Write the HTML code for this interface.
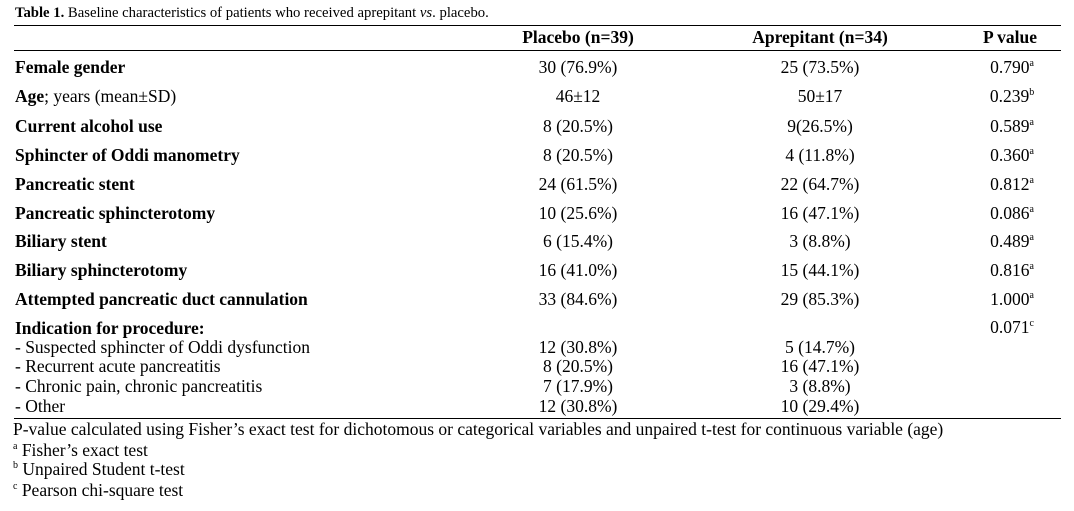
<!DOCTYPE html><html><head><style>
body{margin:0;width:1074px;height:511px;background:#fff;font-family:"Liberation Serif",serif;font-size:17.5px;color:#000;position:relative;overflow:hidden}
.t{position:absolute;white-space:nowrap;line-height:18px;transform:translateY(-9px)}
.c{transform:translate(-50%,-9px)}
.b{font-weight:bold}
.l{position:absolute;left:14px;width:1047px;height:1px;background:#000}
sup{font-size:10px;vertical-align:7px;line-height:0}
</style></head><body>
<div class="t" style="left:15px;top:13px;font-size:14.7px"><b>Table 1.</b> Baseline characteristics of patients who received aprepitant <i>vs</i>. placebo.</div>
<div class="l" style="top:25px"></div>
<div class="t c b" style="left:578px;top:37px">Placebo (n=39)</div>
<div class="t c b" style="left:820px;top:37px">Aprepitant (n=34)</div>
<div class="t c b" style="left:1010px;top:37px">P value</div>
<div class="l" style="top:50px"></div>
<div class="t b" style="left:15px;top:67px">Female gender</div>
<div class="t c" style="left:578px;top:67px">30 (76.9%)</div><div class="t c" style="left:820px;top:67px">25 (73.5%)</div><div class="t c" style="left:1012px;top:67px">0.790<sup>a</sup></div>
<div class="t" style="left:15px;top:96px"><b>Age</b>; years (mean±SD)</div>
<div class="t c" style="left:578px;top:96px">46±12</div><div class="t c" style="left:820px;top:96px">50±17</div><div class="t c" style="left:1012px;top:96px">0.239<sup>b</sup></div>
<div class="t b" style="left:15px;top:126px">Current alcohol use</div>
<div class="t c" style="left:578px;top:126px">8 (20.5%)</div><div class="t c" style="left:820px;top:126px">9(26.5%)</div><div class="t c" style="left:1012px;top:126px">0.589<sup>a</sup></div>
<div class="t b" style="left:15px;top:155px">Sphincter of Oddi manometry</div>
<div class="t c" style="left:578px;top:155px">8 (20.5%)</div><div class="t c" style="left:820px;top:155px">4 (11.8%)</div><div class="t c" style="left:1012px;top:155px">0.360<sup>a</sup></div>
<div class="t b" style="left:15px;top:184px">Pancreatic stent</div>
<div class="t c" style="left:578px;top:184px">24 (61.5%)</div><div class="t c" style="left:820px;top:184px">22 (64.7%)</div><div class="t c" style="left:1012px;top:184px">0.812<sup>a</sup></div>
<div class="t b" style="left:15px;top:213px">Pancreatic sphincterotomy</div>
<div class="t c" style="left:578px;top:213px">10 (25.6%)</div><div class="t c" style="left:820px;top:213px">16 (47.1%)</div><div class="t c" style="left:1012px;top:213px">0.086<sup>a</sup></div>
<div class="t b" style="left:15px;top:241px">Biliary stent</div>
<div class="t c" style="left:578px;top:241px">6 (15.4%)</div><div class="t c" style="left:820px;top:241px">3 (8.8%)</div><div class="t c" style="left:1012px;top:241px">0.489<sup>a</sup></div>
<div class="t b" style="left:15px;top:270px">Biliary sphincterotomy</div>
<div class="t c" style="left:578px;top:270px">16 (41.0%)</div><div class="t c" style="left:820px;top:270px">15 (44.1%)</div><div class="t c" style="left:1012px;top:270px">0.816<sup>a</sup></div>
<div class="t b" style="left:15px;top:299px">Attempted pancreatic duct cannulation</div>
<div class="t c" style="left:578px;top:299px">33 (84.6%)</div><div class="t c" style="left:820px;top:299px">29 (85.3%)</div><div class="t c" style="left:1012px;top:299px">1.000<sup>a</sup></div>
<div class="t b" style="left:15px;top:328px">Indication for procedure:</div>
<div class="t c" style="left:1012px;top:327px">0.071<sup>c</sup></div>
<div class="t" style="left:15px;top:347px">- Suspected sphincter of Oddi dysfunction</div>
<div class="t c" style="left:578px;top:347px">12 (30.8%)</div><div class="t c" style="left:820px;top:347px">5 (14.7%)</div>
<div class="t" style="left:15px;top:366px">- Recurrent acute pancreatitis</div>
<div class="t c" style="left:578px;top:366px">8 (20.5%)</div><div class="t c" style="left:820px;top:366px">16 (47.1%)</div>
<div class="t" style="left:15px;top:386px">- Chronic pain, chronic pancreatitis</div>
<div class="t c" style="left:578px;top:386px">7 (17.9%)</div><div class="t c" style="left:820px;top:386px">3 (8.8%)</div>
<div class="t" style="left:15px;top:406px">- Other</div>
<div class="t c" style="left:578px;top:406px">12 (30.8%)</div><div class="t c" style="left:820px;top:406px">10 (29.4%)</div>
<div class="l" style="top:418px"></div>
<div class="t" style="left:13px;top:429px">P-value calculated using Fisher’s exact test for dichotomous or categorical variables and unpaired t-test for continuous variable (age)</div>
<div class="t" style="left:13px;top:450px"><sup>a</sup> Fisher’s exact test</div>
<div class="t" style="left:13px;top:469px"><sup>b</sup> Unpaired Student t-test</div>
<div class="t" style="left:13px;top:490px"><sup>c</sup> Pearson chi-square test</div>
</body></html>
